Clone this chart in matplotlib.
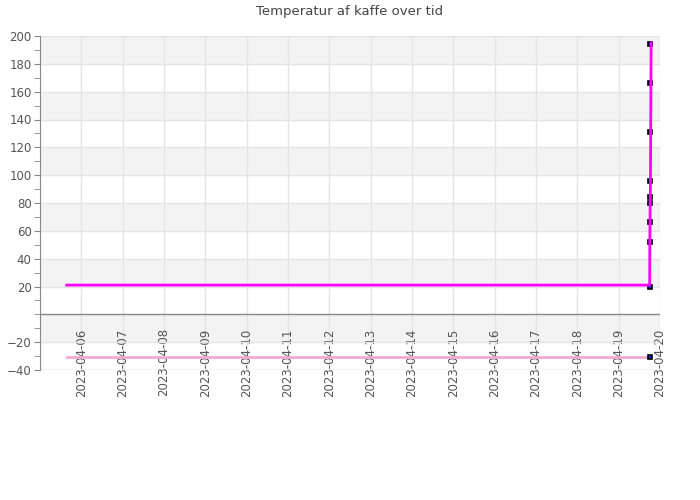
import matplotlib
matplotlib.use("Agg")
import matplotlib.pyplot as plt
import matplotlib.dates as mdates
import numpy as np
import pandas as pd

title = "Temperatur af kaffe over tid"

main_times = ["2023-04-05 15:30", "2023-04-19 18:00", "2023-04-19 18:06",
              "2023-04-19 18:12", "2023-04-19 18:18", "2023-04-19 18:22",
              "2023-04-19 18:28", "2023-04-19 18:36", "2023-04-19 18:44",
              "2023-04-19 18:52"]
main_values = [21, 21, 52, 66, 80, 84, 96, 131, 166, 195]
marker_values = [20, 52, 66, 80, 84, 96, 131, 166, 194]

low_times = ["2023-04-05 15:30", "2023-04-19 18:00"]
low_values = [-31, -31]

x_start = "2023-04-05"
x_end = "2023-04-20"
date_ticks = pd.date_range("2023-04-06", "2023-04-20", freq="D")
y_ticks = [-40, -20, 20, 40, 60, 80, 100, 120, 140, 160, 180, 200]

mt = pd.to_datetime(main_times)
lt = pd.to_datetime(low_times)

fig = plt.figure(figsize=(7, 5), dpi=100)
ax = fig.add_axes([40/700, 1-370/500, 620/700, 334/500])

ax.set_xlim(pd.Timestamp(x_start), pd.Timestamp(x_end))
ax.set_ylim(-40, 200)

# alternating bands
for lo in range(-20, 200, 40):
    ax.axhspan(lo, lo + 20, color="#f3f3f3", zorder=0, lw=0)

ax.set_yticks(y_ticks)
ax.set_yticks(np.arange(-40, 201, 10), minor=True)
ax.set_xticks(date_ticks)
ax.xaxis.set_major_formatter(mdates.DateFormatter("%Y-%m-%d"))

ax.grid(True, which="major", color="#e4e4e4", lw=1, zorder=0.5)
ax.set_axisbelow(True)

for s in ["top", "right", "bottom"]:
    ax.spines[s].set_visible(False)
ax.spines["left"].set_color("#888888")
ax.axhline(0, color="#888888", lw=1, zorder=1)
ax.axhline(-40, color="#e4e4e4", lw=1, zorder=0.5)
ax.axhline(200, color="#e4e4e4", lw=1, zorder=0.5)

ax.tick_params(axis="y", which="major", length=4, color="#888888",
               labelsize=8.5, labelcolor="#555555", pad=2)
ax.tick_params(axis="y", which="minor", length=4, color="#888888")
ax.tick_params(axis="x", which="major", length=0, labelsize=8.5,
               labelcolor="#555555", pad=-30, labelrotation=90)
for lab in ax.get_xticklabels():
    lab.set_va("top")
    lab.set_ha("center")

ax.plot(lt, low_values, color="#f4a8d4", lw=2, zorder=2)

ax.plot([mt[1]] * len(marker_values), marker_values, ls="none", marker="s",
        markersize=3.5, markerfacecolor="#2020ff", markeredgecolor="black",
        markeredgewidth=1.2, zorder=3)
ax.plot([lt[-1]], [low_values[-1]], ls="none", marker="s",
        markersize=3.5, markerfacecolor="#2020ff", markeredgecolor="black",
        markeredgewidth=1.2, zorder=3)

ax.plot(mt, main_values, color="#ff00ff", lw=2, zorder=4)

fig.text(0.5, 1 - 11/500, title, ha="center", va="center",
         fontsize=9.5, color="#444444")

fig.savefig("out.png", dpi=100)
